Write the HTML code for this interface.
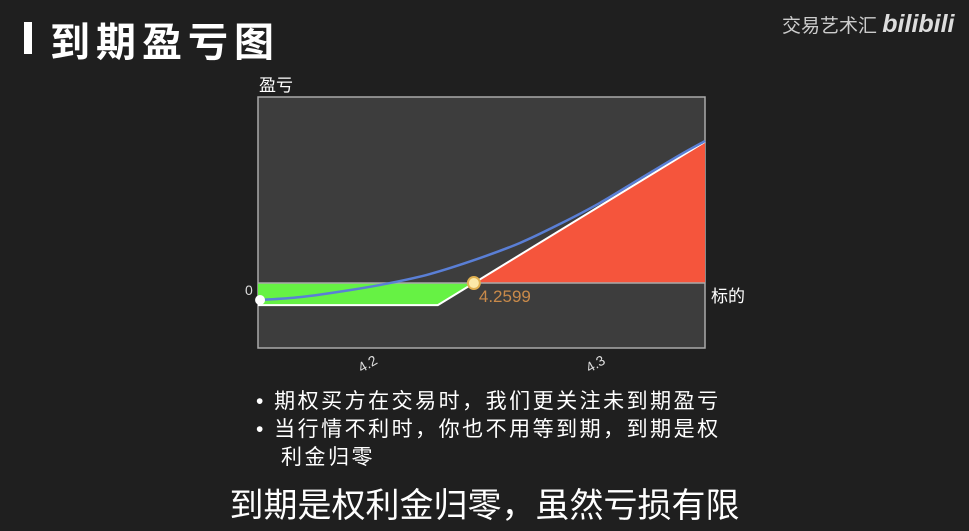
<!DOCTYPE html>
<html><head><meta charset="utf-8"><style>
body{margin:0;width:969px;height:531px;background:#1f1f1f;overflow:hidden;position:relative;font-family:"Liberation Sans","Noto Sans CJK SC",sans-serif;color:#fff}
.abs{position:absolute}
</style></head><body>
<div class="abs" style="left:24px;top:22px;width:8px;height:32px;background:#fff"></div>
<div class="abs" style="left:50px;top:10px;font-size:40px;font-weight:bold;letter-spacing:6px">到期盈亏图</div>
<div class="abs" style="left:782px;top:10px;font-size:19px;color:#ccc">交易艺术汇 <span style="font-weight:bold;font-size:25px;font-style:italic;color:#ddd">bilibili</span></div>
<svg class="abs" style="left:0;top:0" width="969" height="531">
<g id="g"></g>
</svg>
<div class="abs" style="left:256px;top:388px;font-size:21px;line-height:28px;width:500px;letter-spacing:2.5px">
<div>•&nbsp;期权买方在交易时，我们更关注未到期盈亏</div>
<div>•&nbsp;当行情不利时，你也不用等到期，到期是权<br>&nbsp;&nbsp;&nbsp;利金归零</div>
</div>
<div class="abs" style="left:0;width:969px;text-align:center;top:478px;font-size:34px">到期是权利金归零，虽然亏损有限</div>
<script>
const xDomain=[4.1509,4.347];
const yDomain=[-2.95,8.45];
const strike=4.2298;
const premium=1;
const slope=63.3;
const breakevenX=4.2456;
const breakevenLabel=["4.2599"];
const tickValues=[4.2,4.3];
const tickLabels=["4.2","4.3"];
const curveS=[4.1518,4.1693,4.1912,4.2088,4.2263,4.2470,4.2658,4.2833,4.3009,4.3184,4.3360,4.3470];
const curveV=[-0.77,-0.64,-0.32,0,0.41,1.09,1.82,2.68,3.64,4.73,5.82,6.45];
const L=258,R=705,T=97,B=348;
const X=v=>L+(v-xDomain[0])/(xDomain[1]-xDomain[0])*(R-L);
const Y=v=>B-(v-yDomain[0])/(yDomain[1]-yDomain[0])*(B-T);
const pay=s=>Math.max(s-strike,0)*slope-premium;
const NS="http://www.w3.org/2000/svg",g=document.getElementById('g');
function mk(t,a){const e=document.createElementNS(NS,t);for(const k in a)e.setAttribute(k,a[k]);g.appendChild(e);return e;}
let e;
e=mk('rect',{x:L,y:T,width:R-L,height:B-T,fill:'#3d3d3d',stroke:'#aaa','stroke-width':1.5});

const y0=Y(0);
e=mk('polygon',{points:`${L},${y0} ${X(breakevenX)},${y0} ${X(strike)},${Y(-premium)} ${L},${Y(-premium)}`,fill:'#66f244'});

e=mk('polygon',{points:`${X(breakevenX)},${y0} ${R},${Y(pay(xDomain[1]))} ${R},${y0}`,fill:'#f5553c'});

e=mk('line',{x1:L,x2:R,y1:y0,y2:y0,stroke:'#aaa','stroke-width':1.5});

e=mk('polyline',{points:`${L},${Y(pay(xDomain[0]))} ${X(strike)},${Y(pay(strike))} ${R},${Y(pay(xDomain[1]))}`,fill:'none',stroke:'#fff','stroke-width':2});

const P=curveS.map((s,i)=>[X(s),Y(curveV[i])]);
let d='M'+P[0][0]+','+P[0][1];
for(let i=0;i<P.length-1;i++){const p0=P[Math.max(i-1,0)],p1=P[i],p2=P[i+1],p3=P[Math.min(i+2,P.length-1)];
d+=` C${p1[0]+(p2[0]-p0[0])/6},${p1[1]+(p2[1]-p0[1])/6} ${p2[0]-(p3[0]-p1[0])/6},${p2[1]-(p3[1]-p1[1])/6} ${p2[0]},${p2[1]}`;}
e=mk('path',{d:d,fill:'none',stroke:'#5a7fd6','stroke-width':2.5});

e=mk('circle',{cx:X(curveS[0]),cy:Y(curveV[0]),r:5,fill:'#fff'});

e=mk('circle',{cx:X(breakevenX),cy:y0,r:6,fill:'#fbe9a8',stroke:'#e0b050','stroke-width':2});

e=mk('text',{x:X(breakevenX)+5,y:y0+19,fill:'#c98a4a','font-size':17,'font-family':'Liberation Sans,sans-serif'});e.textContent=breakevenLabel[0];

tickValues.forEach((v,i)=>{const x=X(v),y=368;
e=mk('text',{x:x,y:y,fill:'#ddd','font-size':14,'text-anchor':'middle',transform:`rotate(-30 ${x} ${y})`});e.textContent=tickLabels[i];
});
e=mk('text',{x:245,y:295,fill:'#ddd','font-size':14});e.textContent='0';

e=mk('text',{x:259,y:91,fill:'#fff','font-size':17,'font-family':'Liberation Sans,Noto Sans CJK SC,sans-serif'});e.textContent='盈亏';

e=mk('text',{x:711,y:302,fill:'#fff','font-size':17,'font-family':'Liberation Sans,Noto Sans CJK SC,sans-serif'});e.textContent='标的';

</script>
</body></html>
